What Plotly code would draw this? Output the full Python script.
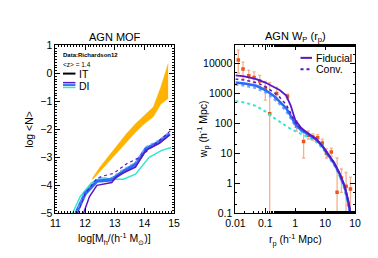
import plotly.graph_objects as go

# ---------------- Left panel: AGN MOF ----------------
logM_band = [12.25, 12.5, 12.8, 13.1, 13.4, 13.7, 14.0, 14.3, 14.55, 14.8]
band_lo = [-3.8, -3.5, -3.15, -2.8, -2.45, -2.1, -1.8, -1.55, -1.1, -0.9]
band_hi = [-3.75, -3.35, -2.95, -2.55, -2.15, -1.8, -1.5, -1.2, -0.5, 0.35]

logM_fid = [11.95, 12.15, 12.4, 12.9, 13.05, 13.3, 13.7, 14.05, 14.5, 14.85]
mof_fid = [-5.0, -4.4, -4.0, -3.9, -3.7, -3.55, -3.35, -2.75, -2.5, -2.2]

logM_blue = [11.7, 12.0, 12.4, 12.9, 13.3, 13.7, 14.05, 14.5, 14.85]
mof_blue = [-5.0, -4.3, -3.85, -3.8, -3.5, -3.25, -2.7, -2.45, -2.15]
mof_bluedot = [-5.0, -4.2, -3.78, -3.72, -3.42, -3.18, -2.62, -2.38, -2.08]

logM_conv = [11.75, 12.0, 12.4, 12.6, 12.97, 13.4, 13.84, 14.48, 14.9]
mof_conv = [-5.0, -4.3, -3.75, -3.67, -3.57, -3.23, -3.0, -2.41, -2.03]

logM_cyan = [11.58, 11.84, 12.22, 12.55, 12.9, 13.29, 13.7, 14.16, 14.58, 14.9]
mof_cyan = [-5.0, -4.4, -3.9, -3.73, -3.78, -3.78, -3.6, -3.0, -2.75, -2.65]

# ---------------- Right panel: AGN wp(rp) ----------------
rp_model = [0.01, 0.02, 0.05, 0.1, 0.2, 0.3, 0.5, 0.7, 1.0, 1.5, 2, 3, 5, 8, 12, 20, 30, 45, 60, 70]
wp_fid = [4000, 3700, 3000, 2300, 1600, 1300, 850, 400, 130, 75, 58, 44, 30, 18, 10, 4.8, 2.2, 0.8, 0.25, 0.1]
wp_conv = [3000, 2800, 2300, 1700, 1050, 750, 420, 230, 110, 68, 55, 43, 30, 18, 10, 4.8, 2.2, 0.8, 0.25, 0.1]
wp_blue = [2300, 2150, 1800, 1300, 800, 550, 320, 180, 95, 62, 52, 41, 29, 17.5, 9.6, 4.6, 2.1, 0.75, 0.22, 0.09]
wp_bluedot = [2000, 1850, 1500, 1100, 650, 450, 260, 150, 85, 58, 49, 39, 28, 17, 9.3, 4.4, 2.0, 0.7, 0.2, 0.08]
wp_cyan = [550, 500, 380, 250, 150, 115, 80, 65, 55, 45, 40, 33, 24, 15, 8.5, 4.0, 1.8, 0.6, 0.17, 0.07]

rp_data = [0.0125, 0.018, 0.028, 0.042, 0.065, 0.1, 0.14, 0.24, 0.55, 1.1, 1.9, 2.7, 3.9, 5.6, 8, 11, 16, 25, 35, 50, 70]
wp_data = [13000, 6500, 3900, 3400, 2600, 1500, 210, 1000, 800, 80, 25, 40, 35, 33, 22, 10, 11, 0.5, 1.5, 0.8, 0.65]
wp_hi = [28000, 11000, 6000, 5200, 4000, 2500, 2300, 1600, 950, 120, 60, 55, 45, 42, 30, 14, 15, 7, 3, 2.3, 1.6]
wp_lo = [4800, 3100, 2500, 2200, 1700, 600, 0.02, 600, 650, 55, 7, 30, 27, 25, 17, 7, 8, 0.02, 0.5, 0.02, 0.02]

PURPLE = "#5a17c4"
BLUE = "#2a6cf5"
LBLUE = "#6fa8ff"
CYAN = "#30e8cc"
ORANGE = "#ffb300"
FONT = "Liberation Sans"

fig = go.Figure()

# orange band
fig.add_trace(go.Scatter(x=logM_band, y=band_lo, mode="lines", line=dict(color=ORANGE, width=0.5),
                         showlegend=False, xaxis="x", yaxis="y"))
fig.add_trace(go.Scatter(x=logM_band, y=band_hi, mode="lines", line=dict(color=ORANGE, width=0.5),
                         fill="tonexty", fillcolor=ORANGE, showlegend=False, xaxis="x", yaxis="y"))

fig.add_trace(go.Scatter(x=logM_cyan, y=mof_cyan, mode="lines", line=dict(color=CYAN, width=1.5),
                         showlegend=False, xaxis="x", yaxis="y"))
fig.add_trace(go.Scatter(x=logM_blue, y=mof_blue, mode="lines", line=dict(color=BLUE, width=3.5),
                         showlegend=False, xaxis="x", yaxis="y"))
fig.add_trace(go.Scatter(x=logM_blue, y=mof_bluedot, mode="lines", line=dict(color=LBLUE, width=1.2, dash="dot"),
                         showlegend=False, xaxis="x", yaxis="y"))
fig.add_trace(go.Scatter(x=logM_conv, y=mof_conv, mode="lines", line=dict(color=PURPLE, width=1.2, dash="dot"),
                         showlegend=False, xaxis="x", yaxis="y"))
fig.add_trace(go.Scatter(x=logM_fid, y=mof_fid, mode="lines", line=dict(color=PURPLE, width=1.5),
                         showlegend=False, xaxis="x", yaxis="y"))

# right panel
fig.add_trace(go.Scatter(x=rp_data, y=wp_data, mode="markers",
                         marker=dict(color="#e8561c", size=3.5, symbol="square"),
                         error_y=dict(type="data", symmetric=False,
                                      array=[h - v for h, v in zip(wp_hi, wp_data)],
                                      arrayminus=[v - l for v, l in zip(wp_data, wp_lo)],
                                      color="#f5b090", thickness=1.3, width=1.5),
                         showlegend=False, xaxis="x2", yaxis="y2"))
fig.add_trace(go.Scatter(x=rp_model, y=wp_cyan, mode="lines", line=dict(color=CYAN, width=2, dash="dot"),
                         showlegend=False, xaxis="x2", yaxis="y2"))
fig.add_trace(go.Scatter(x=rp_model, y=wp_bluedot, mode="lines", line=dict(color=LBLUE, width=2.5, dash="dot"),
                         showlegend=False, xaxis="x2", yaxis="y2"))
fig.add_trace(go.Scatter(x=rp_model, y=wp_blue, mode="lines", line=dict(color=BLUE, width=2.5),
                         showlegend=False, xaxis="x2", yaxis="y2"))
fig.add_trace(go.Scatter(x=rp_model, y=wp_conv, mode="lines", line=dict(color=PURPLE, width=1.5, dash="dot"),
                         showlegend=False, xaxis="x2", yaxis="y2"))
fig.add_trace(go.Scatter(x=rp_model, y=wp_fid, mode="lines", line=dict(color=PURPLE, width=1.8),
                         showlegend=False, xaxis="x2", yaxis="y2"))

axcommon = dict(showline=True, linecolor="black", linewidth=1, mirror="allticks", ticks="inside",
                ticklen=5, tickcolor="black", showgrid=False, zeroline=False,
                tickfont=dict(family=FONT, size=10.5, color="black"))

fig.update_layout(
    width=378, height=258, margin=dict(l=0, r=0, t=0, b=0),
    paper_bgcolor="white", plot_bgcolor="white", showlegend=False,
    xaxis=dict(domain=[39/378, 163/378], range=[11, 15], dtick=1,
               minor=dict(ticks="inside", ticklen=2, dtick=0.1, tickcolor="black"),
               anchor="y", **axcommon),
    yaxis=dict(domain=[1-209/258, 1-33/258], range=[-5, 1], dtick=1,
               minor=dict(ticks="inside", ticklen=2, dtick=0.1, tickcolor="black"),
               anchor="x", **axcommon),
    xaxis2=dict(domain=[227/378, 352/378], type="log", range=[-2, 2],
                tickvals=[0.01, 0.1, 1, 10, 100], ticktext=["0.01", "0.1", "1", "10", "10"],
                minor=dict(ticks="inside", ticklen=2, tickcolor="black"),
                anchor="y2", **axcommon),
    yaxis2=dict(domain=[1-209/258, 1-33/258], type="log", range=[-1, 4.6],
                tickvals=[0.1, 1, 10, 100, 1000, 10000],
                ticktext=["0.1", "1", "10", "100", "1000", "10000"],
                minor=dict(ticks="inside", ticklen=2, tickcolor="black"),
                anchor="x2", **axcommon),
)

ann = []
def A(text, x, y, size=10.5, bold=False, xanchor="center", angle=0, yanchor="middle"):
    ann.append(dict(text=("<b>%s</b>" % text) if bold else text, x=x/378, y=1-y/258,
                    xref="paper", yref="paper", showarrow=False, xanchor=xanchor, yanchor=yanchor,
                    textangle=angle, font=dict(family=FONT, size=size, color="black")))

A("AGN MOF", 101, 24, size=11)
A("AGN W<sub>P</sub> (r<sub>p</sub>)", 290, 24, size=11)
A("log &lt;N&gt;", 12, 121, angle=-90)
A("log[M<sub>h</sub>/(h<sup>-1</sup> M<sub>⊙</sub>)]", 101, 236)
A("w<sub>p</sub> (h<sup>-1</sup> Mpc)", 194, 121, angle=-90)
A("r<sub>p</sub> (h<sup>-1</sup> Mpc)", 290, 237)
A("Data:Richardson12", 45, 43, size=6, bold=True, xanchor="left")
A("&lt;z&gt; = 1.4", 45, 53, size=6.5, xanchor="left")
A("IT", 62, 63, size=10.5, xanchor="left")
A("DI", 62, 75, size=10.5, xanchor="left")
A("Fiducial", 309, 46, size=10.5, xanchor="left")
A("Conv.", 309, 58, size=10.5, xanchor="left")
fig.update_layout(annotations=ann)

shapes = []
def L(x0, x1, y, color, width=1.5, dash="solid"):
    shapes.append(dict(type="line", xref="paper", yref="paper", x0=x0/378, x1=x1/378,
                       y0=1-y/258, y1=1-y/258, line=dict(color=color, width=width, dash=dash)))
L(47, 60, 62.5, "black", 2)
L(47, 60, 72, PURPLE, 1.5)
L(47, 60, 74.5, BLUE, 1.8)
L(47, 60, 77, CYAN, 1.5)
L(295, 307, 46, PURPLE, 2)
L(295, 307, 58, PURPLE, 2, "dot")
fig.update_layout(shapes=shapes)

fig.write_html("out.html")
